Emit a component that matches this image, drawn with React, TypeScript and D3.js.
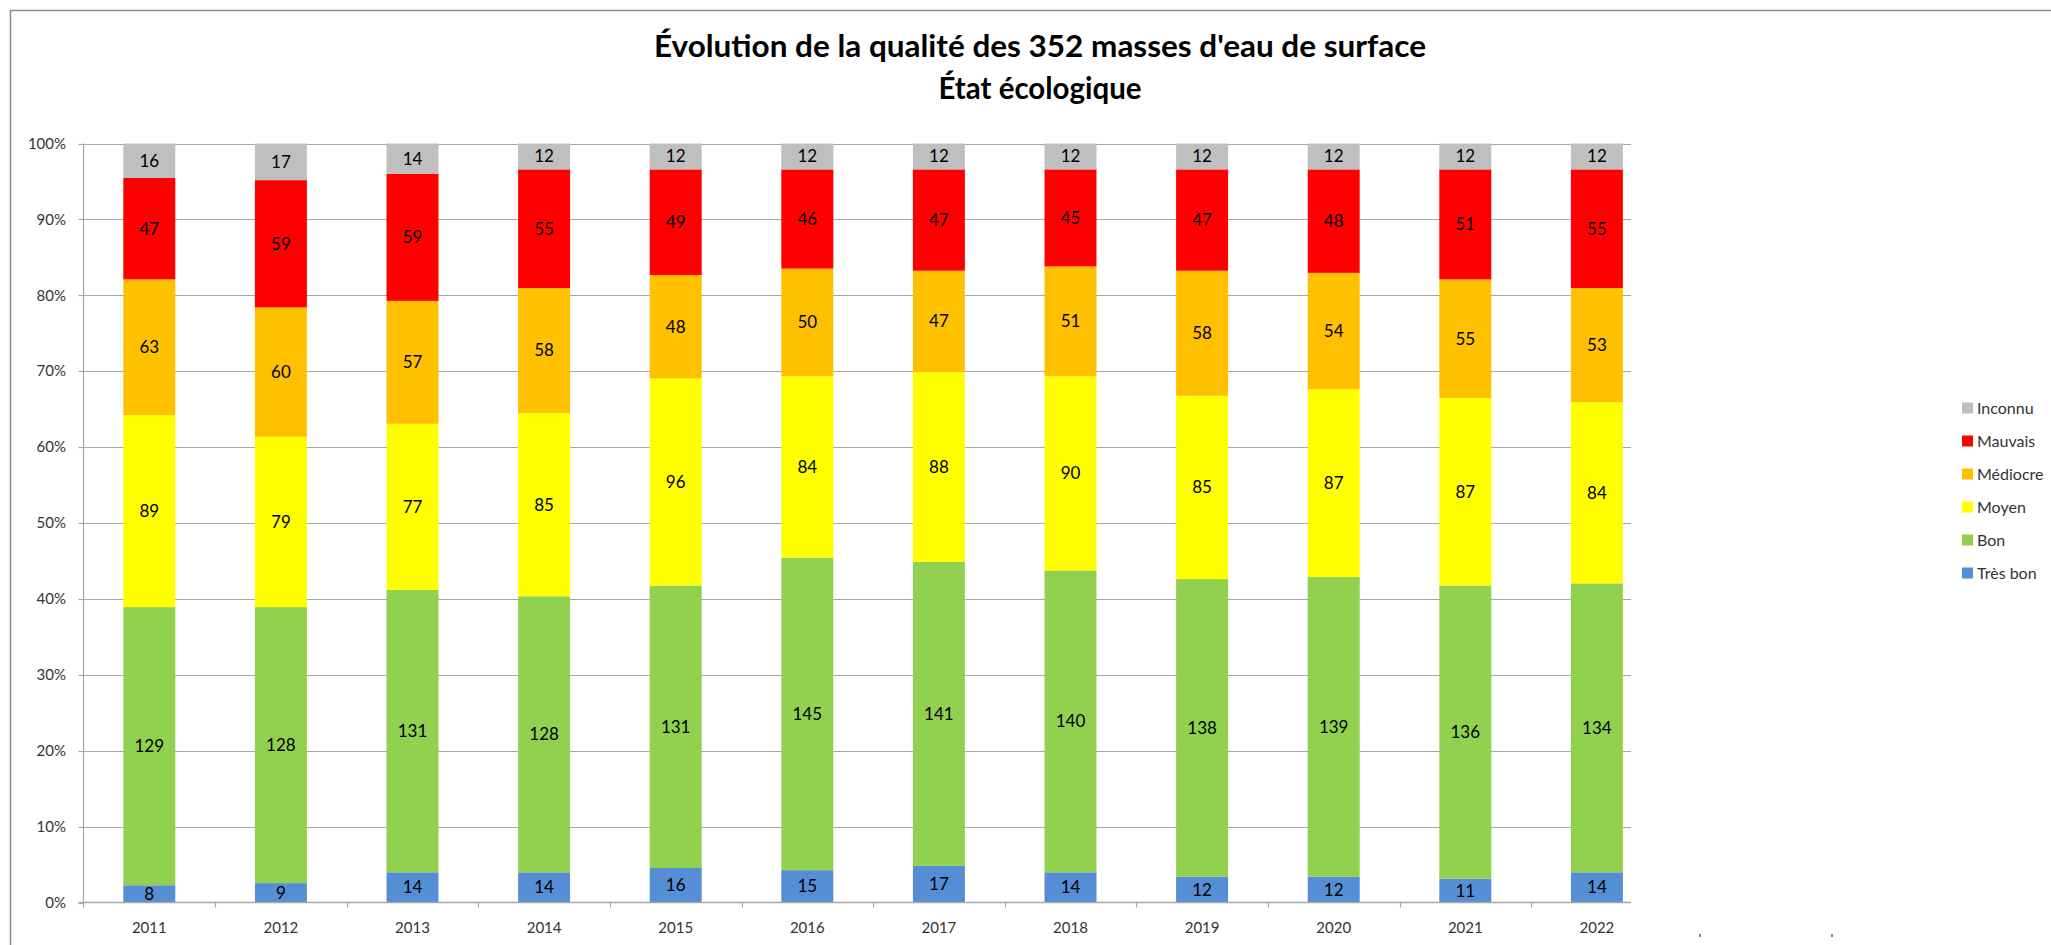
import * as d3 from 'd3';
import React, { useRef, useEffect } from 'react';

// years on the x axis
const years = ['2011', '2012', '2013', '2014', '2015', '2016', '2017', '2018', '2019', '2020', '2021', '2022'];

// number of water bodies per state, one array per series (bottom to top)
const tresBon = [8, 9, 14, 14, 16, 15, 17, 14, 12, 12, 11, 14];
const bon = [129, 128, 131, 128, 131, 145, 141, 140, 138, 139, 136, 134];
const moyen = [89, 79, 77, 85, 96, 84, 88, 90, 85, 87, 87, 84];
const mediocre = [63, 60, 57, 58, 48, 50, 47, 51, 58, 54, 55, 53];
const mauvais = [47, 59, 59, 55, 49, 46, 47, 45, 47, 48, 51, 55];
const inconnu = [16, 17, 14, 12, 12, 12, 12, 12, 12, 12, 12, 12];

const seriesNames = ['Très bon', 'Bon', 'Moyen', 'Médiocre', 'Mauvais', 'Inconnu'];
const seriesValues = [tresBon, bon, moyen, mediocre, mauvais, inconnu];
const seriesColors = ['#558ED5', '#92D050', '#FFFF00', '#FFC000', '#FF0000', '#BFBFBF'];

const yTicks = [0, 0.1, 0.2, 0.3, 0.4, 0.5, 0.6, 0.7, 0.8, 0.9, 1];

const titleLines = ["Évolution de la qualité des 352 masses d'eau de surface", 'État écologique'];
const titleWidths = [772, 203];

const App = () => {
    const svgRef = useRef(null);

    useEffect(() => {
        document.body.style.margin = '0';
        document.body.style.overflow = 'hidden';

        const width = 2051;
        const height = 945;
        const font = 'Lato, "Noto Sans", sans-serif';

        // plot area (the category axis is cut on the right, as in the source)
        const left = 83.5;
        const right = 1631;
        const top = 143.5;
        const bottom = 902.5;
        const step = 131.6;

        const svg = d3.select(svgRef.current);
        svg.selectAll('*').remove();
        svg.attr('width', width).attr('height', height);

        svg.append('rect').attr('width', width).attr('height', height).attr('fill', '#fff');

        // chart border
        svg.append('path')
            .attr('d', `M10.5,${height + 5}V10.5H${width + 5}`)
            .attr('fill', 'none')
            .attr('stroke', '#8c8c8c')
            .attr('stroke-width', 1.5);

        // title, squeezed a little to match the narrow original face
        svg.append('g')
            .selectAll('text')
            .data(titleLines)
            .enter().append('text')
            .attr('x', 1040)
            .attr('y', (d, i) => 57 + i * 42)
            .attr('text-anchor', 'middle')
            .attr('font-family', font)
            .attr('font-weight', 700)
            .attr('font-size', 30)
            .attr('fill', '#000')
            .attr('textLength', (d, i) => titleWidths[i])
            .attr('lengthAdjust', 'spacingAndGlyphs')
            .text((d) => d);

        const x = d3.scaleBand()
            .domain(years)
            .range([left, left + step * years.length])
            .paddingInner(0.605)
            .paddingOuter(0.3025);

        const y = d3.scaleLinear().domain([0, 1]).range([bottom, top]);

        // gridlines
        svg.append('g')
            .selectAll('line')
            .data(yTicks.slice(1))
            .enter().append('line')
            .attr('x1', left)
            .attr('x2', right)
            .attr('y1', (d) => Math.round(y(d)) + 0.5)
            .attr('y2', (d) => Math.round(y(d)) + 0.5)
            .attr('stroke', '#a6a6a6')
            .attr('stroke-width', 1.2);

        // y tick marks and labels
        const yAxis = svg.append('g');
        yAxis.selectAll('line')
            .data(yTicks)
            .enter().append('line')
            .attr('x1', left - 5)
            .attr('x2', left)
            .attr('y1', (d) => Math.round(y(d)) + 0.5)
            .attr('y2', (d) => Math.round(y(d)) + 0.5)
            .attr('stroke', '#a6a6a6')
            .attr('stroke-width', 1.2);
        yAxis.selectAll('text')
            .data(yTicks)
            .enter().append('text')
            .attr('x', 66)
            .attr('y', (d) => y(d))
            .attr('dy', '0.35em')
            .attr('text-anchor', 'end')
            .attr('font-family', font)
            .attr('font-size', 15)
            .attr('fill', '#333')
            .text((d) => d3.format('.0%')(d));

        // stacked bars
        const table = years.map((yr, i) => {
            const row: any = { year: yr };
            seriesNames.forEach((s, k) => { row[s] = seriesValues[k][i]; });
            return row;
        });
        const stack = d3.stack().keys(seriesNames).offset(d3.stackOffsetExpand)(table);

        const layer = svg.append('g')
            .selectAll('g')
            .data(stack)
            .enter().append('g')
            .attr('fill', (d, k) => seriesColors[k]);

        layer.selectAll('rect')
            .data((d) => d)
            .enter().append('rect')
            .attr('x', (d: any) => x(d.data.year))
            .attr('width', x.bandwidth())
            .attr('y', (d) => y(d[1]))
            .attr('height', (d) => y(d[0]) - y(d[1]));

        layer.selectAll('text')
            .data((d) => d.map((v) => ({ v, key: d.key })))
            .enter().append('text')
            .attr('x', (d: any) => x(d.v.data.year) + x.bandwidth() / 2)
            .attr('y', (d: any) => (y(d.v[0]) + y(d.v[1])) / 2)
            .attr('dy', '0.35em')
            .attr('text-anchor', 'middle')
            .attr('font-family', font)
            .attr('font-size', 17)
            .attr('fill', '#000')
            .text((d: any) => d.v.data[d.key]);

        // y axis line
        svg.append('line')
            .attr('x1', left).attr('x2', left)
            .attr('y1', top).attr('y2', bottom)
            .attr('stroke', '#a6a6a6')
            .attr('stroke-width', 1.2);

        // x axis
        const xAxis = svg.append('g');
        xAxis.append('line')
            .attr('x1', left - 5).attr('x2', right)
            .attr('y1', bottom).attr('y2', bottom)
            .attr('stroke', '#a6a6a6')
            .attr('stroke-width', 1.5);
        xAxis.selectAll('line.tick')
            .data(years)
            .enter().append('line')
            .attr('class', 'tick')
            .attr('x1', (d) => Math.round(x(d) - x.step() * 0.3025) + 0.5)
            .attr('x2', (d) => Math.round(x(d) - x.step() * 0.3025) + 0.5)
            .attr('y1', bottom)
            .attr('y2', bottom + 5)
            .attr('stroke', '#a6a6a6')
            .attr('stroke-width', 1.2);
        xAxis.selectAll('text')
            .data(years)
            .enter().append('text')
            .attr('x', (d) => x(d) + x.bandwidth() / 2)
            .attr('y', 933)
            .attr('text-anchor', 'middle')
            .attr('font-family', font)
            .attr('font-size', 15)
            .attr('fill', '#333')
            .text((d) => d);

        // legend, top entry is the last series
        const legend = svg.append('g')
            .selectAll('g')
            .data(seriesNames.slice().reverse())
            .enter().append('g')
            .attr('transform', (d, i) => `translate(1962, ${408 + i * 33})`);
        legend.append('rect')
            .attr('x', 0)
            .attr('y', -5.5)
            .attr('width', 11)
            .attr('height', 11)
            .attr('fill', (d) => seriesColors[seriesNames.indexOf(d)]);
        legend.append('text')
            .attr('x', 15)
            .attr('dy', '0.36em')
            .attr('font-family', font)
            .attr('font-size', 16)
            .attr('fill', '#333')
            .text((d) => d);

        // fragments of a note cut off at the bottom edge
        svg.append('g')
            .selectAll('line')
            .data([1700, 1832])
            .enter().append('line')
            .attr('x1', (d) => d).attr('x2', (d) => d)
            .attr('y1', 934).attr('y2', 937)
            .attr('stroke', '#555')
            .attr('stroke-width', 1.5);
    }, []);

    return (
        <svg ref={svgRef} style={{ display: 'block', position: 'absolute', top: 0, left: 0 }}></svg>
    );
};

export default App;
